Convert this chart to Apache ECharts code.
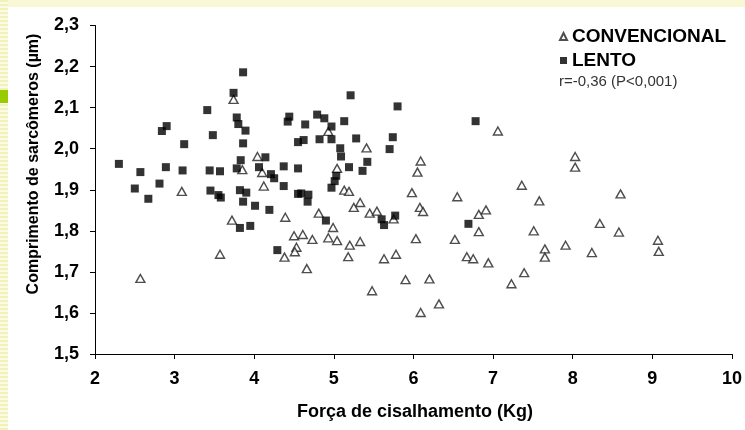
<!DOCTYPE html>
<html>
<head>
<meta charset="utf-8">
<script src="https://cdn.jsdelivr.net/npm/echarts@6/dist/echarts.min.js"></script>
<style>
html,body{margin:0;padding:0;background:#fff;}
#chart{width:745px;height:430px;}
</style>
</head>
<body>
<div id="chart"></div>
<script>
// ---- Data ----
var seriesNames = ['CONVENCIONAL', 'LENTO'];
var xTicks = [2, 3, 4, 5, 6, 7, 8, 9, 10];
var yTicks = ['1,5', '1,6', '1,7', '1,8', '1,9', '2,0', '2,1', '2,2', '2,3'];
var statText = 'r=-0,36 (P<0,001)';
var xTitle = 'Força de cisalhamento (Kg)';
var yTitle = 'Comprimento de sarcômeros (µm)';

var convencionalX = [3.74, 4.04, 3.85, 4.10, 4.12, 3.09, 3.72, 4.39, 4.50, 4.53, 4.51, 4.38, 3.57, 2.57,
  5.04, 6.09, 6.05, 5.98, 6.55, 6.91, 6.82, 6.82, 6.08, 6.12, 5.13, 5.19, 5.33, 5.25, 5.45, 5.54, 5.75,
  4.81, 4.99, 4.61, 4.73, 4.93, 5.04, 5.20, 5.33, 5.18, 5.63, 5.78, 6.03, 6.52, 6.67, 6.75, 6.94, 4.66,
  5.90, 6.20, 5.48, 6.32, 6.09, 4.93, 5.41, 7.06, 8.03, 8.03, 7.36, 7.58, 8.60, 7.51, 8.34, 8.58, 7.65,
  7.65, 7.91, 8.24, 9.07, 9.08, 7.39, 7.23];
var convencionalY = [2.120, 1.981, 1.949, 1.942, 1.909, 1.896, 1.826, 1.833, 1.788, 1.760, 1.749, 1.736, 1.743, 1.684,
  1.952, 1.970, 1.943, 1.893, 1.883, 1.851, 1.840, 1.798, 1.857, 1.847, 1.899, 1.896, 1.869, 1.857, 1.843, 1.848, 1.829,
  1.843, 1.808, 1.791, 1.779, 1.783, 1.776, 1.765, 1.774, 1.737, 1.732, 1.743, 1.781, 1.779, 1.737, 1.732, 1.722, 1.708,
  1.681, 1.683, 1.654, 1.622, 1.601, 2.042, 2.002, 2.043, 1.981, 1.955, 1.911, 1.873, 1.890, 1.800, 1.818, 1.797, 1.756,
  1.736, 1.765, 1.747, 1.777, 1.750, 1.698, 1.671];

var lentoX = [3.86, 3.74, 3.41, 3.78, 3.80, 3.89, 2.90, 2.84, 3.48, 3.12, 3.86, 4.44, 4.42, 4.55, 2.30, 2.57,
  2.89, 3.10, 3.44, 3.57, 3.78, 3.83, 4.14, 4.06, 4.21, 4.25, 4.37, 4.55, 2.50, 2.81, 2.67, 3.45, 3.55,
  3.58, 3.82, 3.90, 3.86, 4.01, 4.19, 4.37, 4.55, 3.82, 3.95, 4.29, 5.09, 5.19, 5.42, 5.36, 5.03, 5.01,
  4.97, 4.59, 4.68, 4.67, 4.90, 5.60, 5.63, 5.77, 6.69, 5.21, 5.80, 6.78, 4.79, 4.88, 4.64, 4.97, 5.13,
  4.62, 4.82, 4.97, 5.28, 5.74, 5.70, 5.08];
var lentoY = [2.186, 2.136, 2.094, 2.076, 2.060, 2.044, 2.055, 2.043, 2.033, 2.011, 2.013, 2.078, 2.066, 2.016, 1.963, 1.943,
  1.955, 1.947, 1.947, 1.945, 1.952, 1.972, 1.979, 1.955, 1.938, 1.928, 1.957, 1.952, 1.903, 1.915, 1.878, 1.898, 1.887,
  1.881, 1.899, 1.893, 1.871, 1.861, 1.851, 1.909, 1.890, 1.807, 1.812, 1.753, 1.981, 1.955, 1.968, 1.946, 1.934, 1.921,
  1.905, 1.891, 1.888, 1.871, 1.825, 1.828, 1.814, 1.837, 1.817, 2.130, 2.103, 2.067, 2.083, 2.074, 2.059, 2.054, 2.067,
  2.021, 2.023, 2.023, 2.025, 2.028, 1.999, 2.001];

function pairs(xs, ys) {
  var out = [];
  for (var i = 0; i < xs.length; i++) out.push([xs[i], ys[i]]);
  return out;
}

// ---- Decorative frame ----
var frame = [];
frame.push({type: 'rect', shape: {x: 0, y: 0, width: 745, height: 7}, style: {fill: '#f8f8d6'}, silent: true});
for (var yy = 0; yy < 430; yy += 4) {
  frame.push({type: 'rect', shape: {x: 0, y: yy, width: 8, height: 2}, style: {fill: '#f1f1bc'}, silent: true});
  frame.push({type: 'rect', shape: {x: 0, y: yy + 2, width: 8, height: 2}, style: {fill: '#fbfbe3'}, silent: true});
}
frame.push({type: 'rect', shape: {x: 0, y: 90, width: 8, height: 13}, style: {fill: '#99cc00'}, silent: true});

var chart = echarts.init(document.getElementById('chart'), null, {renderer: 'canvas'});
var font = '"Liberation Sans", Arial, sans-serif';

chart.setOption({
  backgroundColor: '#ffffff',
  animation: false,
  grid: {left: 95, right: 12, top: 25.5, bottom: 76, containLabel: false},
  legend: {
    orient: 'vertical',
    left: 554,
    top: 22,
    itemWidth: 7,
    itemHeight: 7,
    itemGap: 5,
    padding: 5,
    data: seriesNames,
    textStyle: {fontFamily: font, fontWeight: 'bold', fontSize: 19, color: '#000'}
  },
  xAxis: {
    type: 'value',
    min: 2, max: 10, interval: 1,
    axisLine: {show: true, lineStyle: {color: '#000', width: 1}},
    axisTick: {show: true, inside: false, length: 5, lineStyle: {color: '#000'}},
    splitLine: {show: false},
    axisLabel: {margin: 16, fontFamily: font, fontWeight: 'bold', fontSize: 18, color: '#000',
      formatter: function (v) { return String(v); }}
  },
  yAxis: {
    type: 'value',
    min: 1.5, max: 2.3, interval: 0.1,
    axisLine: {show: true, lineStyle: {color: '#000', width: 1}},
    axisTick: {show: true, inside: false, length: 5, lineStyle: {color: '#000'}},
    splitLine: {show: false},
    axisLabel: {margin: 16, fontFamily: font, fontWeight: 'bold', fontSize: 18, color: '#000',
      formatter: function (v) {
        var idx = Math.round((v - 1.5) * 10);
        return yTicks[idx] !== undefined ? yTicks[idx] : '';
      }}
  },
  graphic: frame.concat([
    {type: 'text', left: 559, top: 74, silent: true,
      style: {text: statText, fontFamily: font, fontSize: 15, fill: '#333'}},
    {type: 'text', x: 415, y: 412, silent: true,
      style: {text: xTitle, fontFamily: font, fontWeight: 'bold', fontSize: 18, fill: '#000',
        align: 'center', verticalAlign: 'middle'}},
    {type: 'text', x: 34, y: 164, rotation: Math.PI / 2, silent: true,
      style: {text: yTitle, fontFamily: font, fontWeight: 'bold', fontSize: 16, fill: '#000',
        align: 'center', verticalAlign: 'middle'}}
  ]),
  series: [
    {
      name: seriesNames[0],
      type: 'scatter',
      symbol: 'triangle',
      symbolSize: [9, 8],
      itemStyle: {color: '#ffffff', borderColor: '#222', borderWidth: 1.4},
      data: pairs(convencionalX, convencionalY),
      z: 2
    },
    {
      name: seriesNames[1],
      type: 'scatter',
      symbol: 'rect',
      symbolSize: 8,
      itemStyle: {color: '#000'},
      data: pairs(lentoX, lentoY),
      z: 3
    }
  ]
});
</script>
</body>
</html>
